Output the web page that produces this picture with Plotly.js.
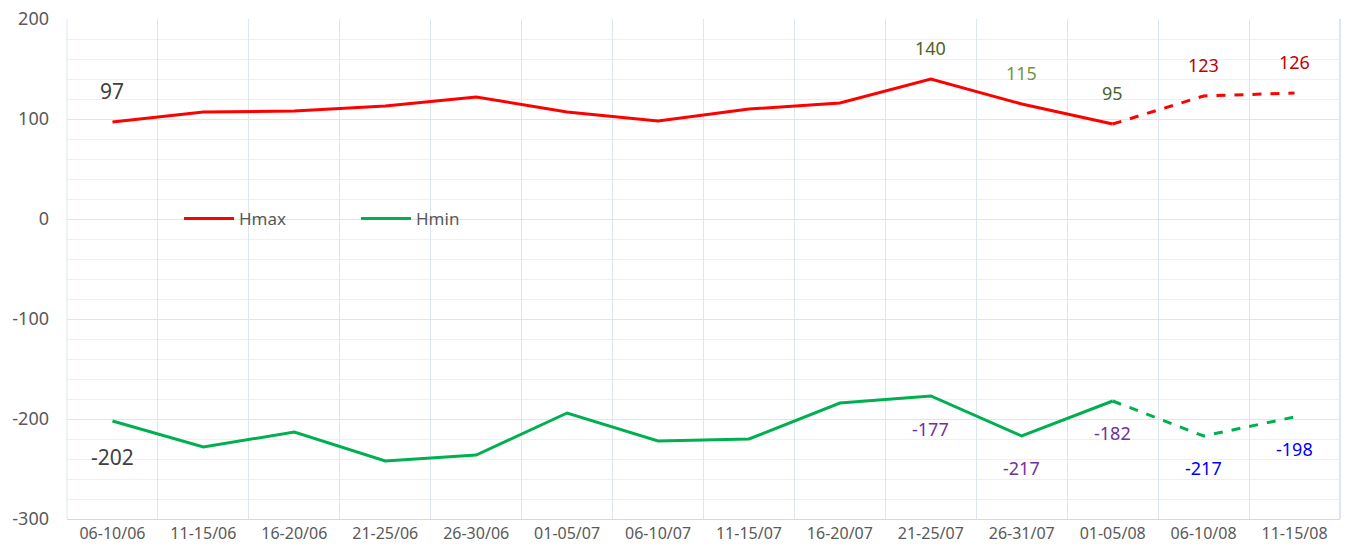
<!DOCTYPE html>
<html>
<head>
<meta charset="utf-8">
<script src="https://cdn.plot.ly/plotly-3.0.1.min.js"></script>
<style>html,body{margin:0;padding:0;background:#fff;}#chart{width:1349px;height:553px;}</style>
</head>
<body>
<div id="chart"></div>
<script>
const categories = ['06-10/06','11-15/06','16-20/06','21-25/06','26-30/06','01-05/07','06-10/07','11-15/07','16-20/07','21-25/07','26-31/07','01-05/08','06-10/08','11-15/08'];
const hmax = [97, 107, 108, 113, 122, 107, 98, 110, 116, 140, 115, 95, 123, 126];
const hmin = [-202, -228, -213, -242, -236, -194, -222, -220, -184, -177, -217, -182, -217, -198];
const yTickValues = [-300, -200, -100, 0, 100, 200];
const yTickLabels = ['-300', '-200', '-100', '0', '100', '200'];
const forecastStart = 11; // index from which the line is dashed
const hmaxLabels = [
  {i: 0, color: '#404040', size: 21},
  {i: 9, color: '#4f6228', size: 18},
  {i: 10, color: '#77933c', size: 18},
  {i: 11, color: '#4f6228', size: 18},
  {i: 12, color: '#c00000', size: 18},
  {i: 13, color: '#c00000', size: 18}
];
const hminLabels = [
  {i: 0, color: '#404040', size: 21, shift: -36},
  {i: 9, color: '#7030a0', size: 18, shift: -33},
  {i: 10, color: '#7030a0', size: 18, shift: -32},
  {i: 11, color: '#7030a0', size: 18, shift: -32},
  {i: 12, color: '#0000ff', size: 18, shift: -32},
  {i: 13, color: '#0000ff', size: 18, shift: -32}
];

const FONT = 'Noto Sans, Open Sans, sans-serif';
const solidX = categories.slice(0, forecastStart + 1);
const dashX = categories.slice(forecastStart);

const traces = [
  {x: solidX, y: hmax.slice(0, forecastStart + 1), name: 'Hmax', type: 'scatter', mode: 'lines',
   line: {color: '#ff0000', width: 3}},
  {x: dashX, y: hmax.slice(forecastStart), name: 'Hmax', type: 'scatter', mode: 'lines', showlegend: false,
   line: {color: '#ff0000', width: 3, dash: 'dash'}},
  {x: solidX, y: hmin.slice(0, forecastStart + 1), name: 'Hmin', type: 'scatter', mode: 'lines',
   line: {color: '#00b050', width: 3}},
  {x: dashX, y: hmin.slice(forecastStart), name: 'Hmin', type: 'scatter', mode: 'lines', showlegend: false,
   line: {color: '#00b050', width: 3, dash: 'dash'}}
];

const annotations = [];
hmaxLabels.forEach(l => annotations.push({
  x: categories[l.i], y: hmax[l.i], text: String(hmax[l.i]), showarrow: false,
  yshift: 31, font: {family: FONT, size: l.size, color: l.color}
}));
hminLabels.forEach(l => annotations.push({
  x: categories[l.i], y: hmin[l.i], text: String(hmin[l.i]), showarrow: false,
  yshift: l.shift, font: {family: FONT, size: l.size, color: l.color}
}));

const layout = {
  width: 1349, height: 553,
  margin: {l: 67, r: 9, t: 19, b: 34},
  paper_bgcolor: '#ffffff', plot_bgcolor: '#ffffff',
  font: {family: FONT, color: '#595959'},
  showlegend: true,
  legend: {orientation: 'h', x: 0.088, y: 0.6, xanchor: 'left', yanchor: 'middle',
           bgcolor: 'rgba(0,0,0,0)', font: {family: FONT, size: 17, color: '#595959'},
           itemwidth: 50, tracegroupgap: 0, entrywidth: 112},
  xaxis: {type: 'category', range: [-0.5, 13.5], tickson: 'boundaries',
          showgrid: true, gridcolor: '#dce6f2', gridwidth: 1,
          showline: true, linecolor: '#d9d9d9', linewidth: 1, mirror: false,
          ticks: '', tickfont: {family: FONT, size: 16, color: '#595959'}, zeroline: false,
          fixedrange: true},
  yaxis: {range: [-300, 200], tickmode: 'array', tickvals: yTickValues, ticktext: yTickLabels,
          showgrid: true, gridcolor: '#dce6f2', gridwidth: 1,
          minor: {dtick: 20, tick0: 0, showgrid: true, gridcolor: '#efefef', gridwidth: 1},
          zeroline: false, showline: false, ticks: '',
          tickfont: {family: FONT, size: 18, color: '#595959'}, ticklabelstandoff: 17},
  shapes: [
    {type: 'line', xref: 'paper', yref: 'paper', x0: 0, x1: 0, y0: 0, y1: 1, line: {color: '#dce6f2', width: 1}},
    {type: 'line', xref: 'paper', yref: 'paper', x0: 1, x1: 1, y0: 0, y1: 1, line: {color: '#dce6f2', width: 2}}
  ],
  annotations: annotations
};

Plotly.newPlot('chart', traces, layout, {displayModeBar: false, staticPlot: true});
</script>
</body>
</html>
